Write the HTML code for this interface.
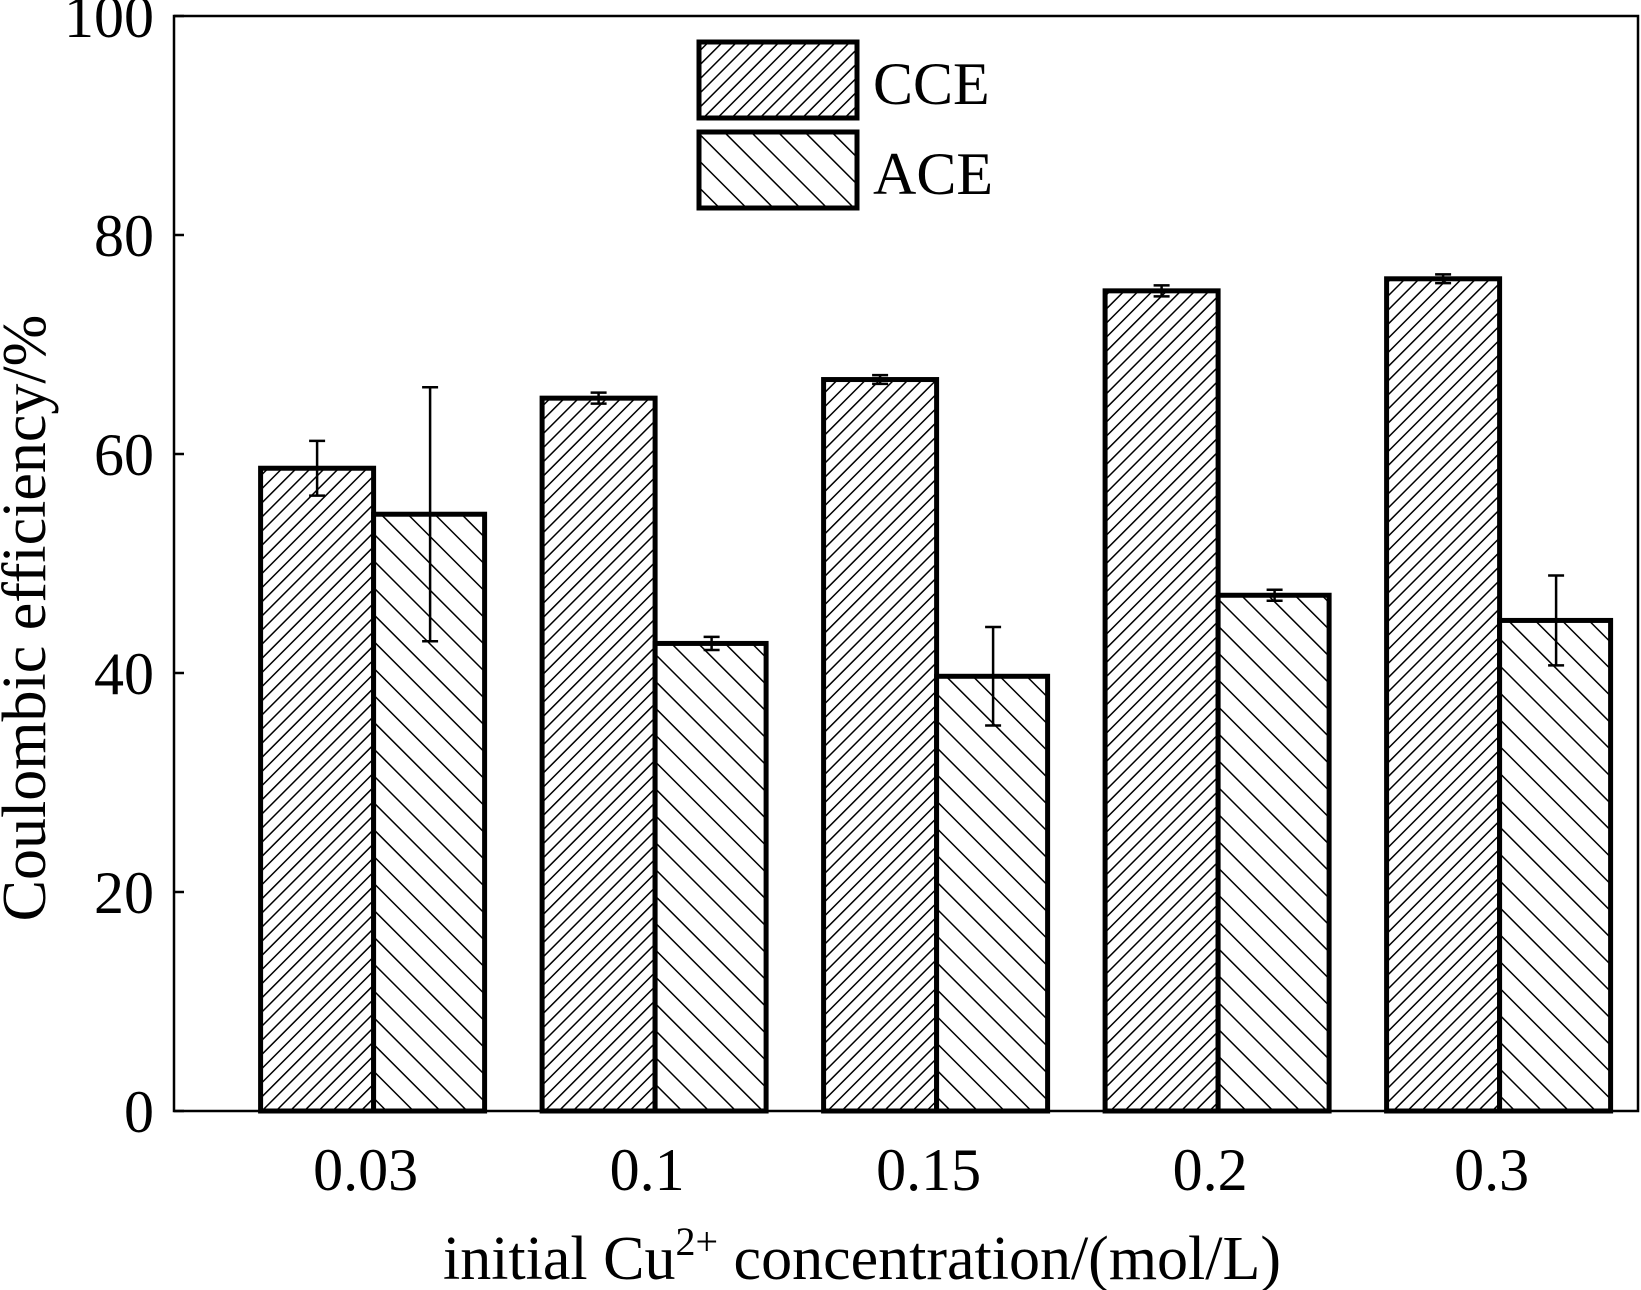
<!DOCTYPE html>
<html><head><meta charset="utf-8"><style>body{margin:0;background:#fff}svg{display:block}text{font-family:"Liberation Serif",serif;fill:#000}</style></head>
<body>
<svg id="chart" width="1641" height="1290" viewBox="0 0 1641 1290">
<defs>
<pattern id="hatchC" patternUnits="userSpaceOnUse" width="10" height="10" patternTransform="rotate(45)"><rect width="10" height="10" fill="#fff"/><line x1="0" y1="0" x2="0" y2="10" stroke="#000" stroke-width="3"/></pattern>
<pattern id="hatchA" patternUnits="userSpaceOnUse" width="19" height="19" patternTransform="rotate(-45)"><rect width="19" height="19" fill="#fff"/><line x1="0" y1="0" x2="0" y2="19" stroke="#000" stroke-width="3"/></pattern>
</defs>
<g id="plot"></g>
</svg>
<script>
const categories=["0.03","0.1","0.15","0.2","0.3"];
const cceValues=[58.7,65.1,66.8,74.9,76.0];
const cceErrors=[2.5,0.5,0.4,0.5,0.4];
const aceValues=[54.5,42.7,39.7,47.1,44.8];
const aceErrors=[11.6,0.6,4.5,0.5,4.1];
const yTicks=[0,20,40,60,80,100];
const NS="http://www.w3.org/2000/svg";
const g=document.getElementById('plot');
const L=174,R=1638,T=16,B=1111;
const y=v=>B-(v/100)*(B-T);
const xc=i=>373.6+i*281.5;
const BW=113;
function mk(t,a,parent){const e=document.createElementNS(NS,t);for(const k in a)e.setAttribute(k,a[k]);(parent||g).appendChild(e);return e;}
let ax=mk('rect',{x:L,y:T,width:R-L,height:B-T,fill:'none',stroke:'#000','stroke-width':2.5});


yTicks.forEach(v=>{
  let t=mk('line',{x1:L,x2:L+10,y1:y(v),y2:y(v),stroke:'#000','stroke-width':2.5});
  
  
  let l=mk('text',{x:L-20,y:y(v)+21,'text-anchor':'end','font-size':60});
  l.textContent=v;
  
  
});
function errBar(cx,v,e){
  const c=(a)=>{let el=mk('line',a);};
  c({x1:cx,x2:cx,y1:y(v+e),y2:y(v-e),stroke:'#000','stroke-width':2.5});
  c({x1:cx-8,x2:cx+8,y1:y(v+e),y2:y(v+e),stroke:'#000','stroke-width':2.5});
  c({x1:cx-8,x2:cx+8,y1:y(v-e),y2:y(v-e),stroke:'#000','stroke-width':2.5});
}
categories.forEach((c,i)=>{
  const cx=xc(i);
  let b1=mk('rect',{x:cx-BW,y:y(cceValues[i]),width:BW,height:B-y(cceValues[i]),fill:'url(#hatchC)',stroke:'#000','stroke-width':5});
  
  
  let b2=mk('rect',{x:cx,y:y(aceValues[i]),width:BW-2,height:B-y(aceValues[i]),fill:'url(#hatchA)',stroke:'#000','stroke-width':5});
  
  
  errBar(cx-BW/2,cceValues[i],cceErrors[i]);
  errBar(cx+BW/2,aceValues[i],aceErrors[i]);
  let l=mk('text',{x:cx-8,y:1190,'text-anchor':'middle','font-size':60});
  l.textContent=c;
  
  
});
[["CCE","url(#hatchC)",42],["ACE","url(#hatchA)",132]].forEach(([n,f,ty])=>{
  let r=mk('rect',{x:699,y:ty,width:158,height:76,fill:f,stroke:'#000','stroke-width':5});
  
  
  let t=mk('text',{x:873,y:ty+62,'font-size':60});
  t.textContent=n;
  
  
});
let yt=mk('text',{x:0,y:0,'text-anchor':'middle','font-size':62,transform:'translate(45,618) rotate(-90)'});
yt.textContent='Coulombic efficiency/%';


let xt=mk('text',{x:862,y:1279,'text-anchor':'middle','font-size':62});
xt.innerHTML='initial Cu<tspan dy="-24" font-size="40">2+</tspan><tspan dy="24"> concentration/(mol/L)</tspan>';


</script>
</body></html>
